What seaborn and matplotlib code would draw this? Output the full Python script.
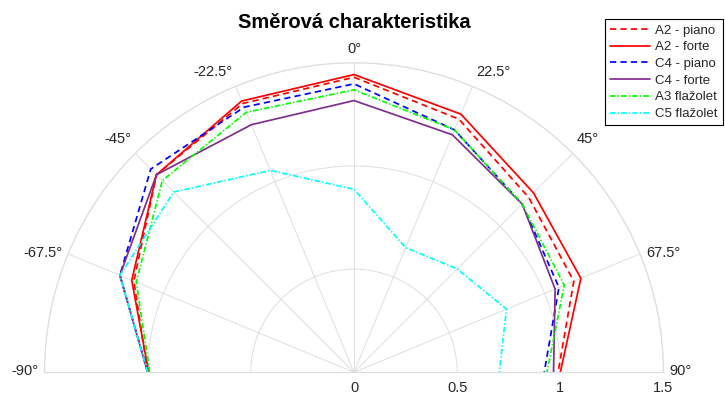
import numpy as np
import pandas as pd
import matplotlib
matplotlib.use("Agg")
import matplotlib.pyplot as plt
import matplotlib.transforms as mtransforms
import seaborn as sns

# --- data (radius per angle) ---
angles_deg = [-90, -67.5, -45, -22.5, 0, 22.5, 45, 67.5, 90]
series_names = ["A2 - piano", "A2 - forte", "C4 - piano", "C4 - forte", "A3 flažolet", "C5 flažolet"]
a2_piano = [1.00, 1.155, 1.354, 1.410, 1.430, 1.328, 1.198, 1.153, 0.989]
a2_forte = [0.995, 1.166, 1.354, 1.423, 1.443, 1.354, 1.230, 1.190, 1.000]
c4_piano = [1.00, 1.228, 1.393, 1.391, 1.398, 1.272, 1.153, 1.075, 0.922]
c4_forte = [1.00, 1.228, 1.354, 1.299, 1.317, 1.246, 1.153, 1.055, 0.967]
a3_flazolet = [0.99, 1.142, 1.314, 1.364, 1.369, 1.272, 1.153, 1.103, 0.935]
c5_flazolet = [1.00, 1.228, 1.236, 1.059, 0.887, 0.654, 0.708, 0.800, 0.704]
radial_ticks = [0, 0.5, 1, 1.5]

values = [a2_piano, a2_forte, c4_piano, c4_forte, a3_flazolet, c5_flazolet]
df = pd.concat(
    [pd.DataFrame({"theta": np.deg2rad(angles_deg), "r": v, "series": name})
     for name, v in zip(series_names, values)],
    ignore_index=True,
)

colors = {
    "A2 - piano": "#FF0000",
    "A2 - forte": "#FF0000",
    "C4 - piano": "#0000FF",
    "C4 - forte": "#7E2F8E",
    "A3 flažolet": "#00FF00",
    "C5 flažolet": "#00FFFF",
}
dashes = {
    "A2 - piano": (4.5, 3),
    "A2 - forte": "",
    "C4 - piano": (4.5, 3),
    "C4 - forte": "",
    "A3 flažolet": (4, 1.5, 1, 1.5),
    "C5 flažolet": (4, 1.5, 1, 1.5),
}

sns.set_theme(style="white")
plt.rcParams["font.family"] = ["Liberation Sans", "DejaVu Sans"]
plt.rcParams["lines.scale_dashes"] = False

fig = plt.figure(figsize=(7.25, 3.97), dpi=100)
W, H = 725, 397
cx, cy, R = 354, 372.3, 309.5
# polar wedge is fitted centred in a square axes box
ax = fig.add_axes([(cx - R) / W, (H - (cy + R / 2)) / H, 2 * R / W, 2 * R / H],
                  projection="polar")
ax.set_theta_zero_location("N")
ax.set_theta_direction(-1)
ax.set_thetamin(-90)
ax.set_thetamax(90)
ax.set_rlim(0, 1.5)

sns.lineplot(data=df, x="theta", y="r", hue="series", style="series",
             palette=colors, dashes=dashes, sort=False, estimator=None,
             linewidth=1.25, ax=ax)

grid_col = "#DEDEDE"
ax.set_thetagrids(angles_deg, labels=[""] * len(angles_deg))
ax.set_rticks([0.5, 1, 1.5])
ax.set_yticklabels([])
ax.grid(True, color=grid_col, linewidth=0.7)
ax.tick_params(length=0)
for sp in ax.spines.values():
    sp.set_color(grid_col)
    sp.set_linewidth(0.9)
ax.set_xlabel("")
ax.set_ylabel("")

# angle labels (MATLAB-like placement)
lab_col = "#262626"
for a in angles_deg:
    txt = f"{a:g}°"
    if a == 0:
        ha, dx = "center", 0
    elif a > 0:
        ha, dx = "left", 3.5 if abs(a) <= 45 else 6
    else:
        ha, dx = "right", -3.5 if abs(a) <= 45 else -6
    if abs(a) <= 45:
        va, dy = "bottom", 7
    else:
        va, dy = "center", 1
    tr = mtransforms.offset_copy(ax.transData, fig=fig, x=dx, y=dy, units="dots")
    ax.text(np.deg2rad(a), 1.5, txt, transform=tr, ha=ha, va=va,
            fontsize=10.5, color=lab_col, clip_on=False)

# radial labels below the baseline
tr = mtransforms.offset_copy(ax.transData, fig=fig, x=0, y=-16, units="dots")
for r in radial_ticks:
    ax.text(np.deg2rad(90), r, f"{r:g}", transform=tr, ha="center", va="center",
            fontsize=10.5, color=lab_col, clip_on=False)

fig.text(cx / W, 1 - 22 / H, "Směrová charakteristika", ha="center", va="center",
         fontsize=14.5, fontweight="bold", color="black")

sns.move_legend(ax, "upper right", bbox_to_anchor=(723 / W, 1 - 19 / H),
                bbox_transform=fig.transFigure, title=None, frameon=True,
                fancybox=False, edgecolor="black", framealpha=1,
                fontsize=9.5, handlelength=3.0, handletextpad=0.4,
                labelspacing=0.34, borderpad=0.4, borderaxespad=0)
leg = ax.get_legend()
leg.get_frame().set_linewidth(0.8)

fig.savefig("out.png", dpi=100)
